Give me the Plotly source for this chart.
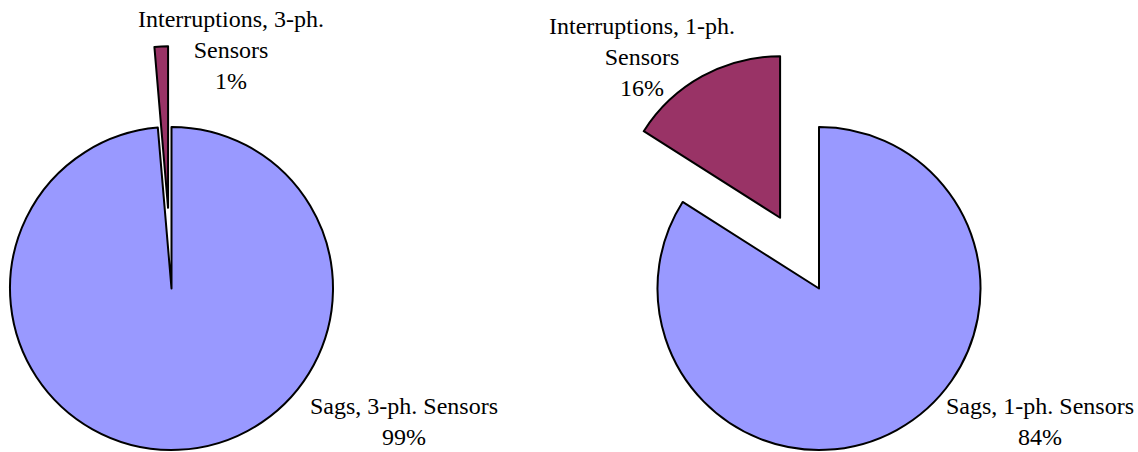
import math
import plotly.graph_objects as go

# ---- data ----
labels_3ph = ["Sags, 3-ph. Sensors", "Interruptions, 3-ph.<br>Sensors"]
values_3ph = [98.65, 1.35]
labels_1ph = ["Sags, 1-ph. Sensors", "Interruptions, 1-ph.<br>Sensors"]
values_1ph = [84, 16]
pull_amount = 0.5

# ---- style ----
W, H = 1138, 452
BLUE = "#9999FF"
MAROON = "#993366"
CLEAR = "rgba(0,0,0,0)"
FONT = "Liberation Serif, Times New Roman, serif"
LW = 2

fig = go.Figure()


def add_pie(values, cx, cy, r):
    """cx, cy in pixels (cy from top), r radius in pixels."""
    x0 = (cx - r) / W
    x1 = (cx + r) / W
    y0 = 1 - (cy + r) / H
    y1 = 1 - (cy - r) / H
    total = sum(values)
    fig.add_trace(go.Pie(
        values=values, sort=False, direction="clockwise", rotation=0,
        marker=dict(colors=[BLUE, CLEAR], line=dict(color=["black", CLEAR], width=[LW, 0])),
        textinfo="none", hoverinfo="skip", showlegend=False,
        domain=dict(x=[x0, x1], y=[y0, y1]),
    ))
    # pulled slice (last slice, just left of 12 o'clock): same pie shifted along its bisector
    theta = math.pi * values[1] / total
    dx = -pull_amount * r * math.sin(theta) / W
    dy = pull_amount * r * math.cos(theta) / H
    fig.add_trace(go.Pie(
        values=values, sort=False, direction="clockwise", rotation=0,
        marker=dict(colors=[CLEAR, MAROON], line=dict(color=[CLEAR, "black"], width=[0, LW])),
        textinfo="none", hoverinfo="skip", showlegend=False,
        domain=dict(x=[x0 + dx, x1 + dx], y=[y0 + dy, y1 + dy]),
    ))


add_pie(values_3ph, 171.5, 288.5, 161.5)
add_pie(values_1ph, 819, 288.5, 161.5)


def pct(values, i):
    return f"{round(values[i] / sum(values) * 100)}%"


ann = [
    (labels_3ph[1] + "<br>" + pct(values_3ph, 1), 231, 50),
    (labels_3ph[0] + "<br>" + pct(values_3ph, 0), 404, 421),
    (labels_1ph[1] + "<br>" + pct(values_1ph, 1), 642, 57),
    (labels_1ph[0] + "<br>" + pct(values_1ph, 0), 1040, 421),
]
for text, x, y in ann:
    fig.add_annotation(
        text=text, x=x / W, y=1 - y / H, xref="paper", yref="paper",
        xanchor="center", yanchor="middle", align="center", showarrow=False,
        font=dict(family=FONT, size=24, color="black"),
    )

fig.update_layout(
    width=W, height=H, margin=dict(l=0, r=0, t=0, b=0),
    paper_bgcolor="white", plot_bgcolor="white",
)

fig.write_html("out.html", config={"displayModeBar": False},
               post_script="document.body.style.margin='0';")
